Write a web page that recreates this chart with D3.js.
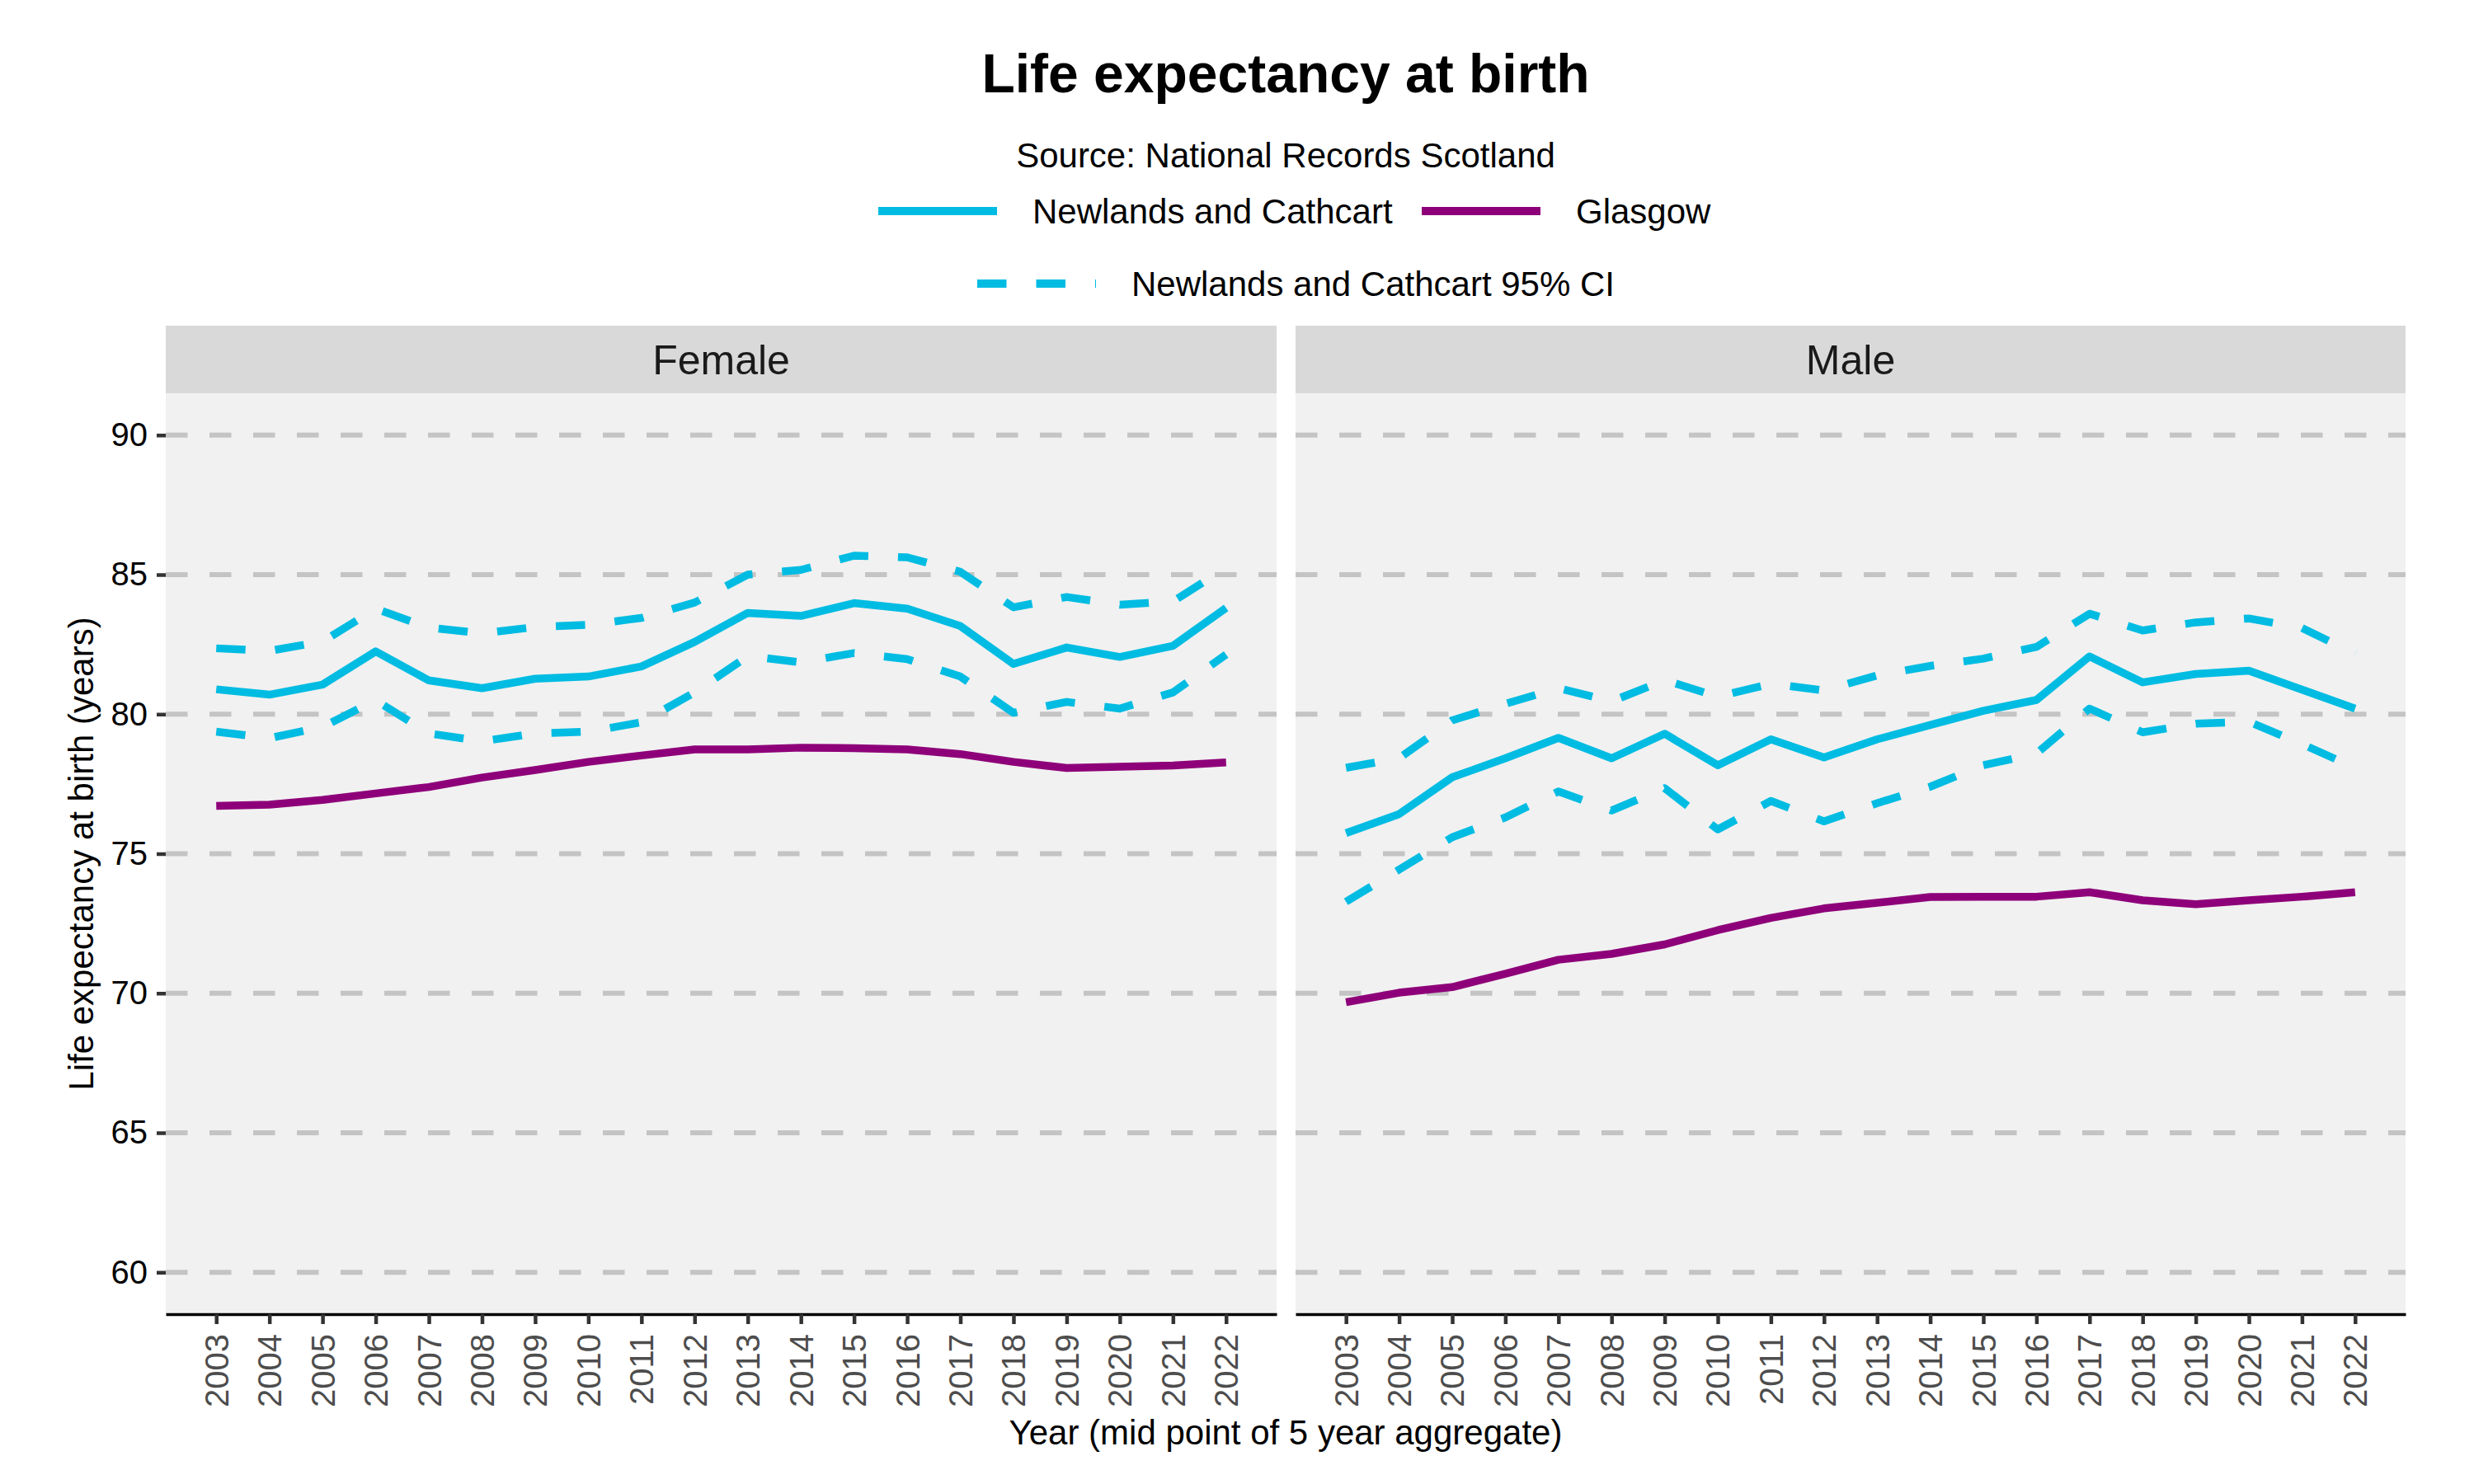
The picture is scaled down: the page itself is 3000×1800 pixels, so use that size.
<!DOCTYPE html>
<html>
<head>
<meta charset="utf-8">
<script src="https://cdn.jsdelivr.net/npm/d3@7"></script>
<style>
  body { margin: 0; background: #fff; }
  svg { font-family: "Liberation Sans", Arial, Helvetica, sans-serif; display: block; }
</style>
</head>
<body>
<script>
// data
const years = [2003, 2004, 2005, 2006, 2007, 2008, 2009, 2010, 2011, 2012,
               2013, 2014, 2015, 2016, 2017, 2018, 2019, 2020, 2021, 2022];
const panels = ['Female', 'Male'];
const yTicks = [60, 65, 70, 75, 80, 85, 90];

const femaleNewlands = [80.89, 80.70, 81.06, 82.25, 81.21, 80.93, 81.27, 81.35, 81.71, 82.59,
                        83.63, 83.52, 83.98, 83.78, 83.16, 81.80, 82.39, 82.05, 82.45, 83.81];
const femaleUpper = [82.36, 82.27, 82.60, 83.78, 83.10, 82.90, 83.12, 83.20, 83.45, 84.00,
                     85.00, 85.17, 85.68, 85.62, 85.10, 83.83, 84.20, 83.92, 84.04, 85.25];
const femaleLower = [79.37, 79.14, 79.54, 80.50, 79.31, 79.03, 79.31, 79.37, 79.71, 80.78,
                     82.08, 81.86, 82.19, 81.97, 81.35, 80.05, 80.44, 80.20, 80.78, 82.14];
const femaleGlasgow = [76.71, 76.76, 76.93, 77.16, 77.39, 77.73, 78.00, 78.29, 78.52, 78.74,
                       78.74, 78.80, 78.78, 78.74, 78.57, 78.29, 78.07, 78.12, 78.16, 78.27];

const maleNewlands = [75.74, 76.42, 77.74, 78.42, 79.15, 78.42, 79.30, 78.17, 79.10, 78.45,
                      79.10, 79.61, 80.12, 80.51, 82.07, 81.14, 81.44, 81.56, 80.88, 80.20];
const maleUpper = [78.08, 78.42, 79.78, 80.37, 80.93, 80.46, 81.22, 80.63, 81.09, 80.85,
                   81.39, 81.73, 81.99, 82.41, 83.60, 83.00, 83.29, 83.43, 83.09, 82.16];
const maleLower = [73.28, 74.43, 75.59, 76.30, 77.23, 76.55, 77.35, 75.87, 76.89, 76.16,
                   76.81, 77.40, 78.17, 78.59, 80.20, 79.35, 79.66, 79.73, 78.93, 78.08];
const maleGlasgow = [69.68, 70.02, 70.22, 70.70, 71.20, 71.41, 71.75, 72.26, 72.70, 73.04,
                     73.24, 73.45, 73.46, 73.46, 73.62, 73.33, 73.19, 73.33, 73.46, 73.62];

const cyan = '#00bce2';
const purple = '#8e0079';

const series = {
    Female: [
        { values: femaleGlasgow, color: purple, dash: null },
        { values: femaleUpper, color: cyan, dash: '35.5,36' },
        { values: femaleLower, color: cyan, dash: '35.5,36' },
        { values: femaleNewlands, color: cyan, dash: null }
    ],
    Male: [
        { values: maleGlasgow, color: purple, dash: null },
        { values: maleUpper, color: cyan, dash: '35.5,36' },
        { values: maleLower, color: cyan, dash: '35.5,36' },
        { values: maleNewlands, color: cyan, dash: null }
    ]
};

// layout
const W = 3000, H = 1800;
const panelTop = 477, panelBottom = 1594;
const panelX = { Female: [201, 1548], Male: [1571, 2917] };

const svg = d3.select('body').append('svg')
    .attr('width', W).attr('height', H)
    .attr('viewBox', `0 0 ${W} ${H}`);

const y = d3.scaleLinear().domain([58.5, 91.5]).range([panelBottom, panelTop]);

panels.forEach((name, i) => {
    const x = d3.scaleLinear().domain([2002.05, 2022.95]).range(panelX[name]);
    const g = svg.append('g').attr('class', 'panel');
    const [x0, x1] = panelX[name];

    // strip + background
    g.append('rect').attr('x', x0).attr('y', 395).attr('width', x1 - x0).attr('height', panelTop - 395)
        .attr('fill', '#d9d9d9');
    g.append('text').attr('x', (x0 + x1) / 2).attr('y', 454)
        .attr('text-anchor', 'middle').attr('font-size', 50).attr('fill', '#1a1a1a')
        .text(name);
    g.append('rect').attr('x', x0).attr('y', panelTop).attr('width', x1 - x0).attr('height', panelBottom - panelTop)
        .attr('fill', '#f1f1f1');

    // grid
    g.selectAll('.grid')
        .data(yTicks)
        .enter().append('line')
        .attr('class', 'grid')
        .attr('x1', x0).attr('x2', x1)
        .attr('y1', d => y(d)).attr('y2', d => y(d))
        .attr('stroke', '#c4c4c4').attr('stroke-width', 6)
        .attr('stroke-dasharray', '26.5,26.5');

    // lines
    const line = d3.line().x((d, j) => x(years[j])).y(d => y(d));
    g.selectAll('.series')
        .data(series[name])
        .enter().append('path')
        .attr('class', 'series')
        .attr('d', d => line(d.values))
        .attr('fill', 'none')
        .attr('stroke', d => d.color)
        .attr('stroke-width', 9.5)
        .attr('stroke-linejoin', 'round')
        .attr('stroke-dasharray', d => d.dash);

    // x axis
    const xAxis = g.append('g').attr('transform', `translate(0,${panelBottom})`)
        .call(d3.axisBottom(x).tickValues(years).tickFormat(d3.format('d')).tickSize(12).tickSizeOuter(0));
    xAxis.select('.domain').attr('stroke', '#000').attr('stroke-width', 3.5);
    xAxis.selectAll('.tick line').attr('stroke', '#333').attr('stroke-width', 4.5);
    xAxis.selectAll('.tick text')
        .attr('font-size', 40).attr('fill', '#4d4d4d').attr('font-family', null)
        .attr('transform', 'rotate(-90)')
        .attr('text-anchor', 'end')
        .attr('x', -24).attr('y', 0).attr('dy', '0.35em');

    // y axis, left panel only
    if (i === 0) {
        const yAxis = g.append('g').attr('transform', `translate(${x0},0)`)
            .call(d3.axisLeft(y).tickValues(yTicks).tickSize(11).tickPadding(11));
        yAxis.select('.domain').remove();
        yAxis.selectAll('.tick line').attr('stroke', '#333').attr('stroke-width', 4.5);
        yAxis.selectAll('.tick text').attr('font-size', 40).attr('fill', '#000').attr('font-family', null);
    }
});

// titles
svg.append('text').attr('x', 1559).attr('y', 112).attr('text-anchor', 'middle')
    .attr('font-size', 66).attr('font-weight', 'bold').text('Life expectancy at birth');
svg.append('text').attr('x', 1559).attr('y', 203).attr('text-anchor', 'middle')
    .attr('font-size', 42).text('Source: National Records Scotland');
svg.append('text').attr('x', 1559).attr('y', 1752).attr('text-anchor', 'middle')
    .attr('font-size', 42).text('Year (mid point of 5 year aggregate)');
svg.append('text').attr('transform', `translate(113,${(panelTop + panelBottom) / 2}) rotate(-90)`)
    .attr('text-anchor', 'middle').attr('font-size', 42).text('Life expectancy at birth (years)');

// legend
const legendItems = [
    { label: 'Newlands and Cathcart', color: cyan, dash: null, x: 1065, y: 256 },
    { label: 'Glasgow', color: purple, dash: null, x: 1724, y: 256 },
    { label: 'Newlands and Cathcart 95% CI', color: cyan, dash: '35.5,36', x: 1185, y: 344 }
];
const legend = svg.append('g').attr('class', 'legend');
const item = legend.selectAll('.item').data(legendItems).enter().append('g')
    .attr('transform', d => `translate(${d.x},${d.y})`);
item.append('line').attr('x1', 0).attr('x2', 144).attr('y1', 0).attr('y2', 0)
    .attr('stroke', d => d.color).attr('stroke-width', 10)
    .attr('stroke-dasharray', d => d.dash);
item.append('text').attr('x', 187).attr('y', 15).attr('font-size', 42).text(d => d.label);
</script>
</body>
</html>
